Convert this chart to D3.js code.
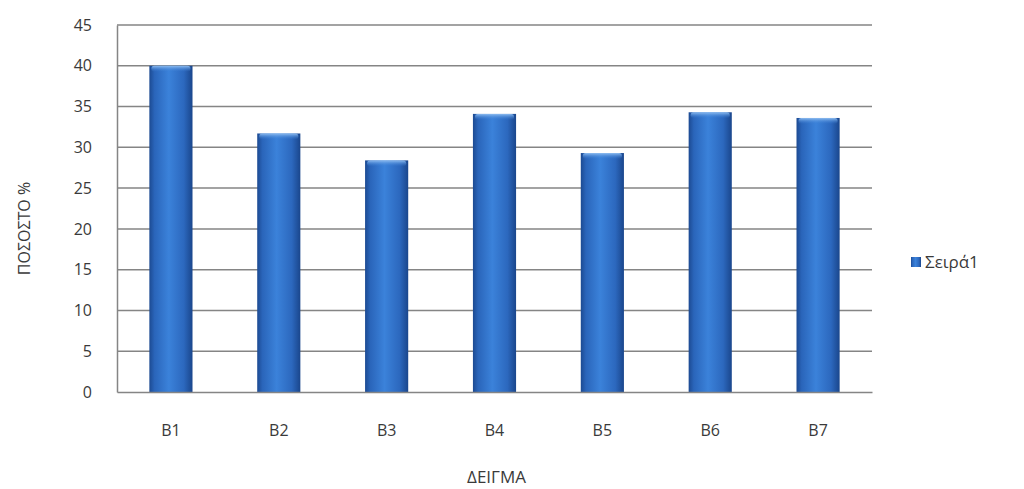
<!DOCTYPE html>
<html>
<head>
<meta charset="utf-8">
<script src="https://cdnjs.cloudflare.com/ajax/libs/d3/7.8.5/d3.min.js"></script>
<style>
  body { margin: 0; background: #fff; }
  svg text { font-family: "Open Sans", "DejaVu Sans", sans-serif; fill: #3a3a3a; }
</style>
</head>
<body>
<svg id="chart" width="1024" height="489"></svg>
<script>
var categories = ["B1", "B2", "B3", "B4", "B5", "B6", "B7"];
var values = [40, 31.7, 28.4, 34.1, 29.3, 34.3, 33.6];
var yTicks = [0, 5, 10, 15, 20, 25, 30, 35, 40, 45];
var seriesName = "Σειρά1";
var xTitle = "ΔΕΙΓΜΑ";
var yTitle = "ΠΟΣΟΣΤΟ %";

var svg = d3.select("#chart");
var margin = { top: 25, left: 117, right: 152, bottom: 97 };
var width = 1024 - margin.left - margin.right;
var height = 489 - margin.top - margin.bottom;

var defs = svg.append("defs");
var grad = defs.append("linearGradient").attr("id", "barGrad")
	.attr("x1", "0%").attr("x2", "100%").attr("y1", "0%").attr("y2", "0%");
grad.append("stop").attr("offset", "0%").attr("stop-color", "#1c4a92");
grad.append("stop").attr("offset", "12%").attr("stop-color", "#2a65ba");
grad.append("stop").attr("offset", "45%").attr("stop-color", "#3b82da");
grad.append("stop").attr("offset", "80%").attr("stop-color", "#2c68be");
grad.append("stop").attr("offset", "100%").attr("stop-color", "#1a468c");

var capGrad = defs.append("linearGradient").attr("id", "capGrad")
	.attr("x1", "0%").attr("x2", "0%").attr("y1", "0%").attr("y2", "100%");
capGrad.append("stop").attr("offset", "0%").attr("stop-color", "#8fbdf0");
capGrad.append("stop").attr("offset", "100%").attr("stop-color", "#3a7fd6").attr("stop-opacity", 0);

var g = svg.append("g")
	.attr("transform", "translate(" + margin.left + "," + margin.top + ")");

var xScale = d3.scaleBand().domain(categories).range([0, width]).paddingInner(0.6).paddingOuter(0.3);
var yScale = d3.scaleLinear().domain([0, 45]).range([height, 0]);

// gridlines
g.selectAll(".grid")
	.data(yTicks.filter(function (d) { return d > 0; }))
	.enter().append("line")
	.attr("class", "grid")
	.attr("x1", 0).attr("x2", width)
	.attr("y1", function (d) { return yScale(d); })
	.attr("y2", function (d) { return yScale(d); })
	.attr("stroke", "#858585").attr("stroke-width", 1.5);

// y axis
var yAxis = g.append("g")
	.call(d3.axisLeft(yScale).tickValues(yTicks).tickSize(0).tickPadding(25));
yAxis.select(".domain").attr("stroke", "#858585").attr("stroke-width", 1.5);
yAxis.selectAll("text").style("font-size", "16px").attr("fill", "#3a3a3a");

// bars
var bars = g.selectAll(".bar")
	.data(values)
	.enter().append("g").attr("class", "bar");

bars.append("rect")
	.attr("x", function (d, i) { return xScale(categories[i]); })
	.attr("y", function (d) { return yScale(d); })
	.attr("width", xScale.bandwidth())
	.attr("height", function (d) { return height - yScale(d); })
	.attr("fill", "url(#barGrad)");

bars.append("rect")
	.attr("x", function (d, i) { return xScale(categories[i]) + 2; })
	.attr("y", function (d) { return yScale(d); })
	.attr("width", xScale.bandwidth() - 4)
	.attr("height", 6)
	.attr("rx", 3)
	.attr("fill", "url(#capGrad)");

// x axis
var xAxis = g.append("g")
	.attr("transform", "translate(0," + height + ")")
	.call(d3.axisBottom(xScale).tickSize(0).tickPadding(33));
xAxis.select(".domain").attr("stroke", "#858585").attr("stroke-width", 1.5);
xAxis.selectAll("text").style("font-size", "16px").attr("fill", "#3a3a3a");

// axis titles
svg.append("text")
	.attr("x", margin.left + width / 2 + 2)
	.attr("y", 483)
	.attr("text-anchor", "middle")
	.style("font-size", "17px")
	.text(xTitle);

svg.append("text")
	.attr("transform", "translate(30," + (margin.top + height / 2 + 20) + ") rotate(-90)")
	.attr("text-anchor", "middle")
	.style("font-size", "16px")
	.text(yTitle);

// legend
var legend = svg.append("g").attr("transform", "translate(911,262)");
legend.append("rect")
	.attr("x", 0).attr("y", -5).attr("width", 10).attr("height", 10)
	.attr("fill", "url(#barGrad)");
legend.append("text")
	.attr("x", 14).attr("y", 0).attr("dy", "0.35em")
	.style("font-size", "17px")
	.text(seriesName);
</script>
</body>
</html>
